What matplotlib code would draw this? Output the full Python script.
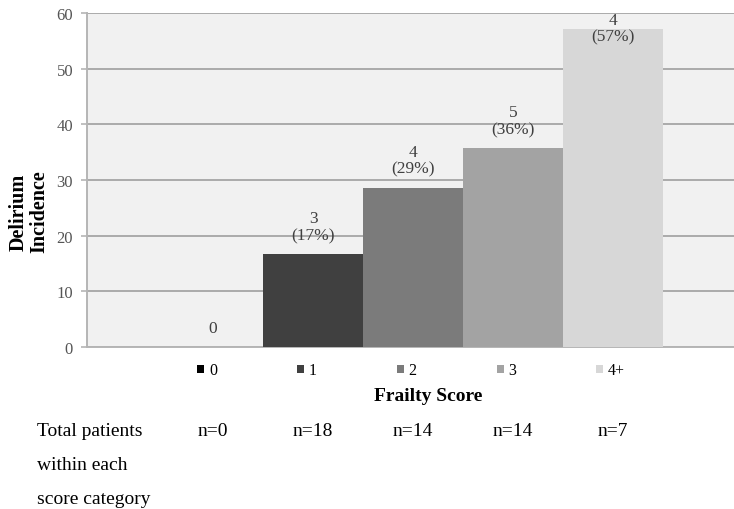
import numpy as np
import matplotlib.pyplot as plt
from matplotlib.transforms import blended_transform_factory

# frailty score categories
scores = ['0', '1', '2', '3', '4+']
cases = [0, 3, 4, 5, 4]          # delirium cases per category
totals = [0, 18, 14, 14, 7]      # total patients per category
bar_colors = ['#000000', '#404040', '#7b7b7b', '#a3a3a3', '#d7d7d7']
row_label = ['Total patients', 'within each', 'score category']

incidence = [c / t * 100 if t else 0 for c, t in zip(cases, totals)]

plt.rcParams['font.family'] = ['Liberation Serif', 'DejaVu Serif']

fig = plt.figure(figsize=(7.34, 5.10), dpi=100)
W, H = 734, 510
# axes: left spine at x=87px, y=0 at 348px, y=60 at 14px, right side cropped off
ax = fig.add_axes([87 / W, 1 - 348 / H, (769 - 87) / W, (348 - 14) / H])
ax.set_facecolor('#f1f1f1')

x = np.arange(len(scores))
bars = ax.bar(x, incidence, width=1.0, color=bar_colors, label=scores, zorder=3)

ax.set_xlim(-1.26, 5.56)
ax.set_ylim(0, 60)
ax.set_yticks(np.arange(0, 61, 10))
ax.set_xticks([])
ax.yaxis.grid(True, color='#ababab', lw=1.4, zorder=0)
ax.set_axisbelow(True)
for s in ['top', 'right']:
    ax.spines[s].set_visible(False)
ax.spines['left'].set_color('#b5b5b5')
ax.spines['left'].set_linewidth(1.4)
ax.spines['bottom'].set_color('#b5b5b5')
ax.spines['bottom'].set_linewidth(1.4)
ax.tick_params(axis='y', length=4, width=1.2, color='#b5b5b5',
               labelsize=12, labelcolor='#555555', pad=6)

# value labels above bars
for xi, v, c in zip(x, incidence, cases):
    txt = '0' if totals[xi] == 0 else '%d\n(%d%%)' % (c, round(v))
    ax.text(xi, min(v + 2.0, 54.4), txt, ha='center', va='bottom',
            fontsize=12.5, color='#404040', linespacing=1.05, zorder=4)

ax.set_xlabel('Frailty Score', fontsize=14, fontweight='bold', labelpad=29)
fig.text(29 / W, 1 - 212 / H, 'Delirium\nIncidence', rotation=90,
         ha='center', va='center', fontsize=14.5, fontweight='bold', linespacing=1.0)

fig.legend(handles=list(bars), labels=scores, loc='center left',
           bbox_to_anchor=(197 / W, 1 - 371.5 / H), ncol=5, frameon=False,
           fontsize=11.5, handlelength=0.45, handleheight=0.45, handletextpad=0.3,
           columnspacing=5.0, borderpad=0, borderaxespad=0)

# patient counts row
tr = blended_transform_factory(ax.transData, fig.transFigure)
for xi, t in zip(x, totals):
    ax.text(xi, 1 - 436 / H, 'n=%d' % t, transform=tr, ha='center',
            va='baseline', fontsize=14)
for i, lab in enumerate(row_label):
    fig.text(37 / W, 1 - (436 + 34 * i) / H, lab, ha='left', va='baseline', fontsize=14)

fig.savefig('out.png', dpi=100)
